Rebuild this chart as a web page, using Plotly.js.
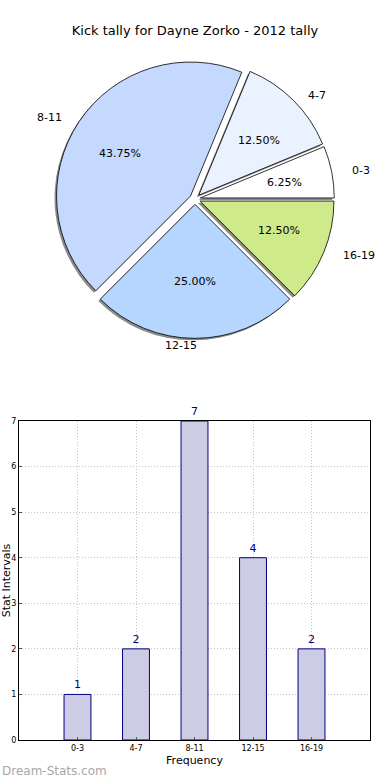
<!DOCTYPE html>
<html><head><meta charset="utf-8">
<script src="https://cdn.plot.ly/plotly-3.0.1.min.js"></script>
<style>html,body{margin:0;padding:0;background:#fff}#c{width:390px;height:780px}</style>
</head><body><div id="c"></div>
<script>
var categories = ["0-3","4-7","8-11","12-15","16-19"];
var counts = [1,2,7,4,2];
var sliceColors = ["#ffffff","#eaf1ff","#c5d9ff","#b5d6ff","#cfea8b"];
var yTicks = [0,1,2,3,4,5,6,7];

var FONT = "DejaVu Sans, sans-serif";
var W = 390, H = 780;
var PULL = 0.04;
var pull = categories.map(function(){return PULL;});
// pie geometry (pixels)
var cx = 195, cy = 199, R = 134;
var D = 2*R*(1+PULL);
var dom = {x:[(cx-D/2)/W,(cx+D/2)/W], y:[1-(cy+D/2)/H,1-(cy-D/2)/H]};
var px = 2/W, py = 2/H;

var shadow = {
  type:'pie', values:counts, labels:categories, sort:false, direction:'counterclockwise', rotation:67.5,
  pull:pull, marker:{colors:categories.map(function(){return 'rgba(60,60,60,0.6)';}), line:{width:0}},
  domain:{x:[dom.x[0]-px,dom.x[1]-px], y:[dom.y[0]-py,dom.y[1]-py]},
  textinfo:'none', hoverinfo:'skip', showlegend:false
};
var pie = {
  type:'pie', values:counts, labels:categories, sort:false, direction:'counterclockwise', rotation:67.5,
  pull:pull, marker:{colors:sliceColors, line:{color:'#000',width:0.8}},
  domain:dom, textinfo:'none', showlegend:false
};
var bar = {
  type:'bar', x:categories, y:counts, xaxis:'x', yaxis:'y', width:0.46,
  marker:{color:'#ccccE5', line:{color:'#00007f',width:1}},
  text:counts.map(String), textposition:'outside', cliponaxis:false,
  textfont:{family:FONT,size:11,color:'#00007f'}, showlegend:false
};

// matplotlib-style text placement (pctdistance 0.6, labeldistance 1.1)
var total = counts.reduce(function(a,b){return a+b;},0);
var ann = [];
var rx = 143, ry = 129, off = 5;
var acc = 0;
counts.forEach(function(v,i){
  var mid = (acc + v/2)/total*2*Math.PI; acc += v;
  var c = Math.cos(mid), s = Math.sin(mid);
  var ox = cx + off*c, oy = cy - off*s;
  var pctX = ox + 0.6*rx*c, pctY = oy - 0.6*ry*s;
  ann.push({text:(v/total*100).toFixed(2)+'%', xref:'paper', yref:'paper', x:pctX/W, y:1-pctY/H,
    xanchor:'center', yanchor:'middle', showarrow:false, font:{family:FONT,size:11,color:'#000'}});
  var lX = ox + 1.1*rx*c + (c>0?-4:4), lY = oy - 1.1*ry*s;
  ann.push({text:categories[i], xref:'paper', yref:'paper', x:lX/W, y:1-lY/H,
    xanchor:(c>0?'left':'right'), yanchor:'middle', showarrow:false, font:{family:FONT,size:11,color:'#000'}});
});
ann.push({text:'Dream-Stats.com', xref:'paper', yref:'paper', x:0, y:1-771/H, xanchor:'left', yanchor:'middle', showarrow:false,
  font:{family:FONT,size:12,color:'#a8a8a8'}});

var layout = {
  width:W, height:H, margin:{l:0,r:0,t:0,b:0}, paper_bgcolor:'#fff', plot_bgcolor:'#fff',
  font:{family:FONT,color:'#000'},
  title:{text:'Kick tally for Dayne Zorko - 2012 tally', font:{family:FONT,size:13,color:'#000'}, x:0.5, xanchor:'center', y:1-30/H, yanchor:'middle'},
  xaxis:{domain:[19/W,370/W], anchor:'y', range:[-1,5], tickmode:'array', tickvals:categories, ticktext:categories,
    tickfont:{size:8}, showgrid:true, gridcolor:'#c4c4c4', griddash:'1px,2px', gridwidth:1, showline:true, linecolor:'#000', linewidth:1, mirror:true,
    ticks:'inside', ticklen:3, tickcolor:'#555', zeroline:false, fixedrange:true,
    title:{text:'Frequency', font:{size:11}, standoff:4}},
  yaxis:{domain:[1-740/H,1-421/H], anchor:'x', range:[0,7], tickvals:yTicks, tickfont:{size:8},
    showgrid:true, gridcolor:'#c4c4c4', griddash:'1px,2px', gridwidth:1, showline:true, linecolor:'#000', linewidth:1, mirror:true,
    ticks:'inside', ticklen:3, tickcolor:'#555', zeroline:false,
    title:{text:'Stat Intervals', font:{size:11}, standoff:4}},
  annotations:ann
};
Plotly.newPlot('c',[shadow,pie,bar],layout,{displayModeBar:false,staticPlot:true});
</script></body></html>
